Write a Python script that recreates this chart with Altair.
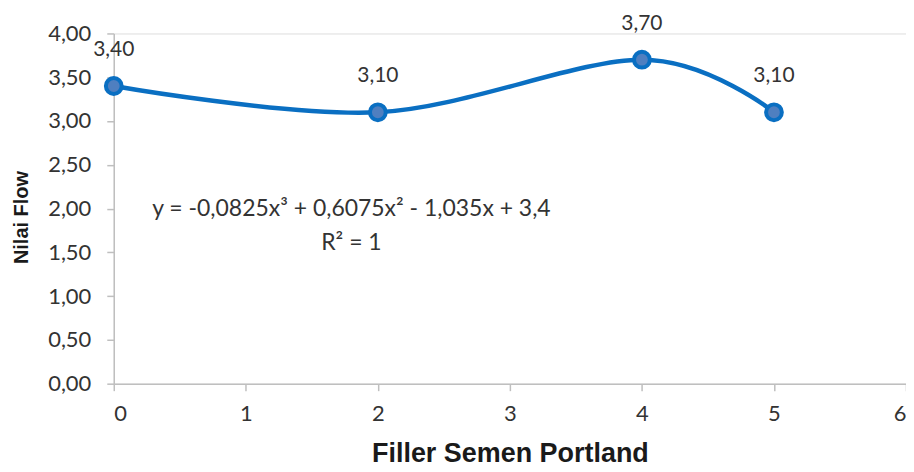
import altair as alt
import pandas as pd

x_vals = [0, 2, 4, 5]
y_vals = [3.40, 3.10, 3.70, 3.10]
point_labels = ["3,40", "3,10", "3,70", "3,10"]

eq_text = ["y = -0,0825x³ + 0,6075x² - 1,035x + 3,4", "R² = 1"]
eq_x = [1.80, 1.80]
eq_y = [2.00, 1.61]

df = pd.DataFrame({"x": x_vals, "y": y_vals, "label": point_labels})
eq = pd.DataFrame({"t": eq_text, "x": eq_x, "y": eq_y})

FONT = "Lato"
BLUE = "#0A6FC2"
TXT = "#333333"

xs = alt.Scale(domain=[0, 6], nice=False, zero=False)
ys = alt.Scale(domain=[0, 4], nice=False)

xaxis = alt.Axis(values=[0, 1, 2, 3, 4, 5, 6], format="d", title="Filler Semen Portland",
                 titleFont="Liberation Sans", titleFontSize=27, titleFontWeight="bold",
                 titleColor="#1a1a1a", titlePadding=16,
                 labelFont=FONT, labelFontSize=22, labelColor=TXT, labelPadding=13,
                 grid=False, domainColor="#BFBFBF", domainWidth=1.5,
                 tickColor="#BFBFBF", tickSize=7, tickWidth=1.5)
yaxis = alt.Axis(values=[0, 0.5, 1, 1.5, 2, 2.5, 3, 3.5, 4], title="Nilai Flow",
                 labelExpr="replace(format(datum.value, '.2f'), '.', ',')",
                 titleFont="Liberation Sans", titleFontSize=20, titleFontWeight="bold",
                 titleColor="#1a1a1a", titleX=-92, titleY=184,
                 titleAlign="center", titleBaseline="middle", titleAngle=270,
                 labelFont=FONT, labelFontSize=22, labelColor=TXT, labelPadding=16,
                 grid=False, domainColor="#BFBFBF", domainWidth=1.5,
                 tickColor="#BFBFBF", tickSize=7, tickWidth=1.5)

base = alt.Chart(df)
line = base.mark_line(interpolate="cardinal", color=BLUE, strokeWidth=4.5).encode(
    x=alt.X("x:Q", scale=xs, axis=xaxis),
    y=alt.Y("y:Q", scale=ys, axis=yaxis),
)
pts = base.mark_point(filled=True, size=250, fill="#4F7FC0", stroke=BLUE,
                      strokeWidth=4, opacity=1, shape="circle").encode(
    x=alt.X("x:Q", scale=xs), y=alt.Y("y:Q", scale=ys))
labels = base.mark_text(font=FONT, fontSize=21, color=TXT, dy=-36).encode(
    x=alt.X("x:Q", scale=xs), y=alt.Y("y:Q", scale=ys), text="label:N")
eqm = alt.Chart(eq).mark_text(font=FONT, fontSize=23, color=TXT).encode(
    x=alt.X("x:Q", scale=xs), y=alt.Y("y:Q", scale=ys), text="t:N")

chart = alt.layer(line, pts, labels, eqm).properties(
    width=794, height=351,
    autosize=alt.AutoSizeParams(type="none"),
    padding={"left": 106, "top": 25, "right": 0, "bottom": 88},
).configure_view(stroke=None).configure(background="white")

chart.save("out.html", embed_options={"renderer": "svg", "actions": False})
